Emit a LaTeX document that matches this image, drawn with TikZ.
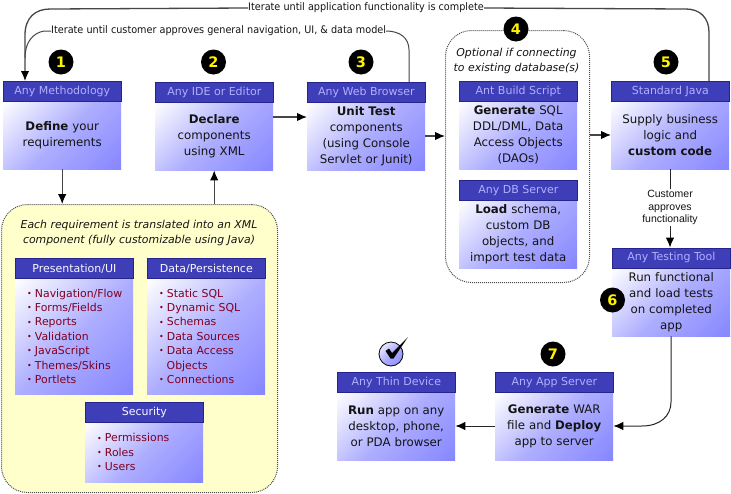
\documentclass[tikz,border=0pt]{standalone}
\usepackage{fontspec}
\setmainfont{DejaVu Sans}
\newfontfamily\arialf{Liberation Sans}
\newfontfamily\narrowf[FakeStretch=0.93]{DejaVu Sans}
\usetikzlibrary{arrows.meta,calc}
\definecolor{hdfill}{RGB}{62,62,184}
\definecolor{hdline}{RGB}{36,36,140}
\definecolor{hdtext}{RGB}{176,176,255}
\definecolor{blueend}{RGB}{134,134,255}
\definecolor{bluemid}{RGB}{174,174,255}
\definecolor{maroon}{RGB}{128,0,32}
\definecolor{note}{RGB}{255,255,204}
\definecolor{ink}{RGB}{20,20,20}
\definecolor{flow}{RGB}{70,70,70}
\pgfdeclareverticalshading{boxshade}{100bp}{color(0bp)=(blueend); color(14.6bp)=(blueend); color(50bp)=(bluemid); color(85.4bp)=(white); color(100bp)=(white)}
\newcommand{\mainsz}{\fontsize{11.8}{16}\selectfont}
\newcommand{\headsz}{\fontsize{11}{14}\selectfont}
\newcommand{\listsz}{\fontsize{10.9}{14.4}\selectfont}
\tikzset{
  x=1pt,y=-1pt,
  hdbox/.style={draw=hdline,line width=.7pt,fill=hdfill,text=hdtext,minimum width=118pt,minimum height=20pt,inner sep=0pt,anchor=north west,font=\headsz},
  hdwhite/.style={hdbox,text=white!92!hdtext},
  bodybox/.style={shading=boxshade,shading angle=45,minimum width=118pt,minimum height=68pt,inner sep=0pt,anchor=north west,align=center,text width=116pt,text=ink,font=\mainsz},
  listbox/.style={bodybox,align=left,text width=100pt,text=maroon,font=\listsz},
  numdot/.style={circle,fill=black,minimum size=25pt,inner sep=0pt,text=yellow,font=\fontsize{14.5}{15}\selectfont\bfseries},
  flowline/.style={draw=flow,line width=1.2pt},
  flowarrow/.style={flowline,-{Latex[length=10pt,width=8.5pt,black]}},
  darkflow/.style={flowarrow,draw=black!85,line width=1pt},
  region/.style={draw=black!70,dash pattern=on 1pt off 1pt,line width=1pt,rounded corners=26pt},
  iterlabel/.style={inner sep=0pt,font=\narrowf\fontsize{10.4}{14}\selectfont,text=ink},
  smalllabel/.style={align=center,inner sep=1pt,font=\arialf\fontsize{10.5}{12.8}\selectfont,text=ink},
}
\newcommand{\bul}{\hspace*{3pt}\raisebox{.8pt}{\fontsize{8}{8}\selectfont\textbullet}\hspace{3pt}}
\begin{document}
\begin{tikzpicture}
\useasboundingbox (0,0) rectangle (731,493);
\fill[white] (0,0) rectangle (731,493);
% regions
\node[region,fill=note,minimum width=276pt,minimum height=288pt,anchor=north west] (yellow) at (1,204) {};
\node[region,minimum width=144pt,minimum height=252pt,anchor=north west] (opt) at (445,30) {};
% main boxes
\node[bodybox] (b1) at (3,101) {\textbf{Define} your\\requirements};
\node[hdbox] (h1) at (3,81) {Any Methodology};
\node[bodybox] (b2) at (155,102) {\textbf{Declare}\\components\\using XML};
\node[hdbox] (h2) at (155,82) {Any IDE or Editor};
\node[bodybox] (b3) at (307,102) {\textbf{Unit Test}\\components\\(using Console\\Servlet or Junit)};
\node[hdbox] (h3) at (307,82) {Any Web Browser};
\node[bodybox] (b4a) at (459,101) {\textbf{Generate} SQL\\DDL/DML, Data\\Access Objects\\(DAOs)};
\node[hdbox] (h4a) at (459,81) {Ant Build Script};
\node[bodybox] (b4b) at (459,200) {\textbf{Load} schema,\\custom DB\\objects, and\\import test data};
\node[hdbox] (h4b) at (459,180) {Any DB Server};
\node[bodybox] (b5) at (611,101) {Supply business\\logic and\\\textbf{custom code}};
\node[hdbox] (h5) at (611,81) {Standard Java};
\node[bodybox] (b6) at (612,268) {Run functional\\and load tests\\on completed\\app};
\node[hdbox] (h6) at (612,247.5) {Any Testing Tool};
\node[bodybox] (b7) at (495,392) {\textbf{Generate} WAR\\file and \textbf{Deploy}\\app to server};
\node[hdbox] (h7) at (495,372) {Any App Server};
\node[bodybox] (b8) at (337,392) {\textbf{Run} app on any\\desktop, phone,\\or PDA browser};
\node[hdbox] (h8) at (337,372) {Any Thin Device};
% yellow contents
\node[inner sep=0pt,align=center,font=\fontsize{10.9}{14.5}\selectfont\itshape,text=ink] (ytext) at (139,233) {Each requirement is translated into an XML\\component (fully customizable using Java)};
\node[listbox,minimum height=116pt] (bp) at (15,278) {\bul Navigation/Flow\\\bul Forms/Fields\\\bul Reports\\\bul Validation\\\bul JavaScript\\\bul Themes/Skins\\\bul Portlets};
\node[hdwhite] (hp) at (15,258) {Presentation/UI};
\node[listbox,minimum height=116pt] (bd) at (147,278) {\bul Static SQL\\\bul Dynamic SQL\\\bul Schemas\\\bul Data Sources\\\bul Data Access\\\hspace*{10.5pt}Objects\\\bul Connections};
\node[hdwhite] (hd) at (147,258) {Data/Persistence};
\node[listbox,minimum height=60pt] (bs) at (85,422) {\bul Permissions\\\bul Roles\\\bul Users};
\node[hdwhite] (hs) at (85,402) {Security};
% option note
\node[inner sep=0pt,align=center,font=\fontsize{10.9}{14.5}\selectfont\itshape,text=ink] (otext) at (516.5,61) {Optional if connecting\\to existing database(s)};
% numbers
\node[numdot] (n1) at (61,62) {1};
\node[numdot] (n2) at (213.5,62) {2};
\node[numdot] (n3) at (361,62) {3};
\node[numdot] (n4) at (516,29) {4};
\node[numdot] (n5) at (666,62) {5};
\node[numdot] (n6) at (612.5,300) {6};
\node[numdot] (n7) at (553,354) {7};
% done mark
\node[circle,draw=black,line width=.8pt,shading=boxshade,shading angle=45,minimum size=24pt,inner sep=0pt] (done) at (391,354) {};
\fill[black] (385.5,351) -- (389,348.5) -- (392,353) -- (408,337) -- (393.5,358.5) -- (390.5,358.5) -- cycle;
% iteration labels
\node[iterlabel,anchor=west] (it1) at (248,8) {Iterate until application functionality is complete};
\node[iterlabel,anchor=west] (it2) at (51,31) {Iterate until customer approves general navigation, UI, \& data model};
% connectors
\draw[flowarrow] (b1.south) -- (b1.south |- yellow.north);
\draw[flowarrow] (yellow.north -| b2.south) -- (b2.south);
\draw[flowarrow] (b2.east |- 0,117) -- (b3.west |- 0,117);
\draw[flowarrow] (b3.east |- 0,136) -- (opt.west |- 0,136);
\draw[flowarrow] (opt.east |- 0,135) -- (b5.west |- 0,135);
\node[smalllabel] (appr) at (670,207.5) {Customer\\approves\\functionality};
\draw[flowline,draw=black!85,line width=1pt] (670,169) -- (appr.north);
\draw[darkflow] (appr.south) -- (670,247.5);
\draw[darkflow] (b6.south) -- (671,402) .. controls (671,416) and (660,426) .. (642,426) -- (b7.east |- 0,426);
\draw[darkflow] (b7.west |- 0,426) -- (b8.east |- 0,426);
\coordinate (top5) at (709,81);
\coordinate (top3) at (409,82);
\coordinate (arrowin) at (25,81);
\draw[flowline,line width=1.3pt] (top5) -- (709,32) .. controls (709,18) and (700,9) .. (686,9) -- (it1.east);
\draw[flowarrow,line width=1.3pt] (it1.west) -- (50,9) .. controls (35,9) and (25,18) .. (25,35) -- (arrowin);
\draw[flowline,line width=1pt] (top3) -- (409,50) .. controls (409,38) and (400,31) .. (386,31) -- (it2.east);
\draw[flowline,line width=1pt] (it2.west) -- (44,31) .. controls (33,33) and (25,42) .. (25,58);
\end{tikzpicture}
\end{document}
